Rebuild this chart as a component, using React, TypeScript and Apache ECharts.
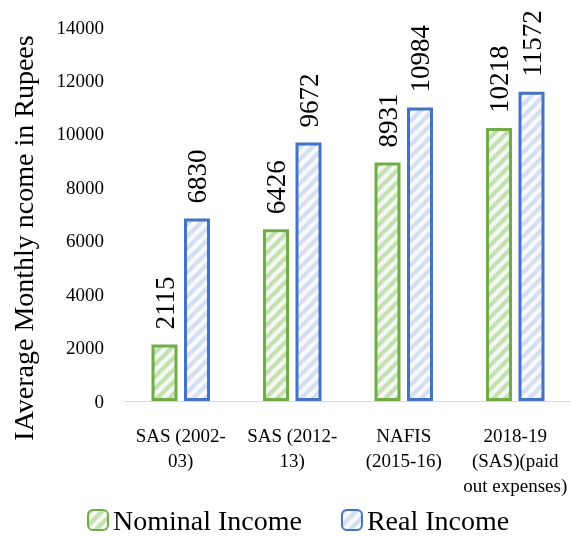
import React, { useEffect, useRef } from "react";
import * as echarts from "echarts";

const categories = [
  "SAS (2002-\n03)",
  "SAS (2012-\n13)",
  "NAFIS\n(2015-16)",
  "2018-19\n(SAS)(paid\nout expenses)",
];
const nominalIncome = [2115, 6426, 8931, 10218];
const realIncome = [6830, 9672, 10984, 11572];
const seriesNames = ["Nominal Income", "Real Income"];
const yTitle = "IAverage Monthly ncome in Rupees";

const FONT = "'Liberation Serif', 'DejaVu Serif', serif";

// Wide upward-diagonal hatch tile, drawn pixel by pixel on a small canvas.
function hatch(stripe: string, bg: string): HTMLCanvasElement {
  const size = 12;
  const c = document.createElement("canvas");
  c.width = size;
  c.height = size;
  const ctx = c.getContext("2d")!;
  ctx.fillStyle = bg;
  ctx.fillRect(0, 0, size, size);
  ctx.fillStyle = stripe;
  for (let y = 0; y < size; y++) {
    for (let x = 0; x < size; x++) {
      if ((x + y) % size < size / 2) ctx.fillRect(x, y, 1, 1);
    }
  }
  return c;
}

export default function App() {
  const ref = useRef<HTMLDivElement>(null);

  useEffect(() => {
    if (!ref.current) return;
    const chart = echarts.init(ref.current, null, { renderer: "svg" });
    const greenFill = hatch("#c5e0b4", "#f4f9f0");
    const blueFill = hatch("#d6e0f3", "#f7f9fd");

    const label = {
      show: true,
      position: "top" as const,
      rotate: 90,
      align: "left" as const,
      verticalAlign: "middle" as const,
      distance: 15,
      fontFamily: FONT,
      fontSize: 27,
      color: "#000",
    };

    chart.setOption({
      animation: false,
      textStyle: { fontFamily: FONT },
      grid: { left: 125, right: 0, top: 27, bottom: 135 },
      legend: {
        top: 506,
        left: 87,
        padding: 0,
        itemWidth: 20,
        itemHeight: 20,
        itemGap: 39,
        textStyle: { fontFamily: FONT, fontSize: 28, color: "#000" },
        data: seriesNames,
      },
      graphic: [
        {
          type: "text",
          x: 23,
          y: 238,
          rotation: Math.PI / 2,
          style: {
            text: yTitle,
            fontFamily: FONT,
            fontSize: 28,
            fill: "#000",
            align: "center",
            verticalAlign: "middle",
          },
        },
      ],
      xAxis: {
        type: "category",
        data: categories,
        axisLine: { lineStyle: { color: "#d9d9d9", width: 1 } },
        axisTick: { show: false },
        axisLabel: {
          margin: 22,
          fontFamily: FONT,
          fontSize: 19,
          lineHeight: 25,
          color: "#000",
          interval: 0,
        },
      },
      yAxis: {
        type: "value",
        min: 0,
        max: 14000,
        interval: 2000,
        splitLine: { show: false },
        axisLine: { show: false },
        axisTick: { show: false },
        axisLabel: {
          margin: 21,
          fontFamily: FONT,
          fontSize: 19,
          color: "#000",
          formatter: (v: number) => String(v),
        },
      },
      series: [
        {
          name: seriesNames[0],
          type: "bar",
          data: nominalIncome,
          barWidth: 26,
          barGap: "25%",
          itemStyle: {
            color: { image: greenFill, repeat: "repeat" },
            borderColor: "#70ad47",
            borderWidth: 3,
          },
          label,
        },
        {
          name: seriesNames[1],
          type: "bar",
          data: realIncome,
          barWidth: 26,
          barGap: "25%",
          itemStyle: {
            color: { image: blueFill, repeat: "repeat" },
            borderColor: "#4472c4",
            borderWidth: 3,
          },
          label,
        },
      ],
    });

    return () => chart.dispose();
  }, []);

  return (
    <div
      ref={ref}
      style={{ position: "fixed", left: 0, top: 0, width: 571, height: 536 }}
    />
  );
}
